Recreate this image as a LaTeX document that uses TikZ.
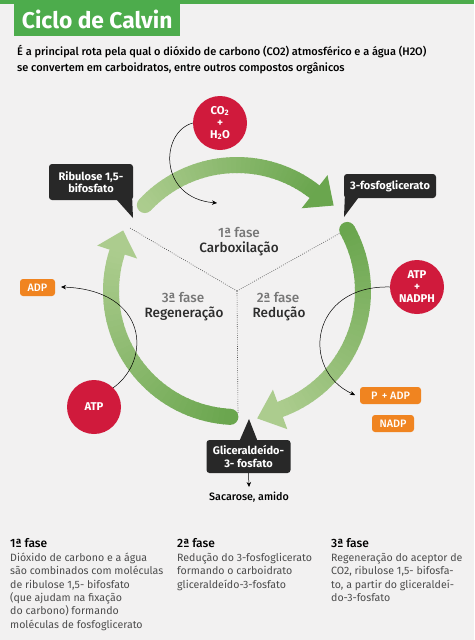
\documentclass[tikz,border=0pt]{standalone}
\usepackage{fontspec}
\setmainfont{Fira Sans}
\newfontfamily\firamed{Fira Sans Medium}
\usetikzlibrary{arrows.meta,calc}
\definecolor{bg}{RGB}{242,241,241}
\definecolor{ctitle}{RGB}{77,172,76}
\definecolor{cdark}{RGB}{40,40,40}
\definecolor{cred}{RGB}{208,26,60}
\definecolor{corange}{RGB}{240,132,32}
\definecolor{clight}{RGB}{172,204,142}
\definecolor{cgreen}{RGB}{106,166,78}
\definecolor{ctext}{RGB}{45,45,45}
\definecolor{cgray}{RGB}{118,118,118}
\newcommand\gradarc[4]{%
  \fill[#3] ($(C)+(#1:126pt)$) circle (8pt);
  \foreach \k in {1,...,40}{%
    \pgfmathsetmacro\aa{#1+(#2-#1)*(\k-1)/40}%
    \pgfmathsetmacro\ab{#1+(#2-#1)*\k/40-0.5}%
    \pgfmathsetmacro\pc{100*(\k-0.5)/40}%
    \draw[line width=16pt, color=#4!\pc!#3] ($(C)+(\aa:126pt)$) arc[start angle=\aa, end angle=\ab, radius=126pt];
  }}
\newcommand\arrhead[3]{%
  \fill[#3] ($(C)+(#1:147pt)$) -- ($(C)+(#2:129pt)$) -- ($(C)+(#1:105pt)$) -- cycle;}
\tikzset{
  callout/.style={fill=cdark, rounded corners=3pt, text=white, font=\bfseries\fontsize{11}{12.5}\selectfont, align=center, inner sep=0pt},
  redc/.style={circle, fill=cred, text=white, font=\bfseries\fontsize{11.3}{12}\selectfont, align=center, minimum size=54pt, inner sep=0pt},
  obox/.style={fill=corange, rounded corners=3pt, text=white, font=\firamed\fontsize{10.8}{12}\selectfont, inner sep=0pt, minimum height=17pt},
  phase/.style={font=\firamed\fontsize{13.5}{15}\selectfont, text=cgray},
  phasename/.style={font=\firamed\fontsize{13.5}{15}\selectfont, text=ctext},
  thinarrow/.style={-{Stealth[length=5pt,width=4.5pt]}, line width=0.5pt, black},
  dots/.style={dash pattern=on 0.8pt off 1.4pt, line width=0.6pt, black!70},
  body/.style={font=\fontsize{10.6}{13.3}\selectfont, text=ctext!85, align=left, anchor=north west, inner sep=0pt},
  head/.style={font=\firamed\fontsize{12}{13}\selectfont, text=black, anchor=west, inner sep=0pt},
}
\begin{document}
\begin{tikzpicture}[x=1pt,y=1pt]
\fill[bg] (0,0) rectangle (474,-640);
\useasboundingbox (0,0) rectangle (474,-640);
% title
\fill[ctitle] (0,0) rectangle (474,-3.5);
\node[fill=ctitle, minimum width=166pt, minimum height=33pt, inner sep=0pt, anchor=north west, text=white, font=\bfseries\fontsize{22.8}{24}\selectfont] (title) at (14,-3) {Ciclo de Calvin};
\node[anchor=north west, inner sep=0pt, align=left, text=black, font=\firamed\fontsize{11}{16}\selectfont] (sub) at (17,-45) {É a principal rota pela qual o dióxido de carbono (CO2) atmosférico e a água (H2O)\\se convertem em carboidratos, entre outros compostos orgânicos};
% cycle
\coordinate (C) at (237,-291);
\coordinate (d1) at (130,-228);
\coordinate (d2) at (342,-232);
\coordinate (d3) at (238,-413);
\draw[dots] (C) -- (d1);
\draw[dots] (C) -- (d2);
\draw[dots] (C) -- (d3);
\gradarc{137}{52}{clight}{cgreen}
\arrhead{52}{41.5}{cgreen}
\gradarc{29}{-70}{cgreen}{clight}
\arrhead{-70}{-81}{clight}
\gradarc{-93}{-198}{cgreen}{clight}
\arrhead{-198}{-208}{clight}
% phase labels
\node[phase] (f1) at (239,-233) {1ª fase};
\node[phasename] (n1) at (239,-249) {Carboxilação};
\node[phase] (f3) at (183,-298) {3ª fase};
\node[phasename] (n3) at (184,-314) {Regeneração};
\node[phase] (f2) at (278,-298) {2ª fase};
\node[phasename] (n2) at (279,-314) {Redução};
% callouts
\node[callout, minimum width=84pt, minimum height=36pt] (rib) at (91,-182) {Ribulose 1,5-\\bifosfato};
\coordinate (ribtip) at (133,-218);
\fill[cdark] ($(rib.south east)+(-17,1)$) -- ($(rib.south east)+(-1,1)$) -- (ribtip) -- cycle;
\node[callout, minimum width=92pt, minimum height=24pt] (fg) at (390,-186) {3-fosfoglicerato};
\coordinate (fgtip) at (344,-217);
\fill[cdark] ($(fg.south west)+(1,1)$) -- ($(fg.south west)+(15,1)$) -- (fgtip) -- cycle;
\node[callout, minimum width=84pt, minimum height=33pt] (gli) at (248.5,-456.5) {Gliceraldeído-\\3- fosfato};
\coordinate (glitip) at (249,-419);
\fill[cdark] ($(gli.north)+(-9,-1)$) -- ($(gli.north)+(9,-1)$) -- (glitip) -- cycle;
\coordinate (sacarr) at (249,-487);
\draw[thinarrow] (gli.south) -- (sacarr);
\node[font=\firamed\fontsize{10.7}{12}\selectfont, text=black] (sac) at (249,-497) {Sacarose, amido};
% red circles
\node[redc] (co2) at (220,-123) {CO\textsubscript{2}\\+\\H\textsubscript{2}O};
\coordinate (co2tip) at (217,-203);
\draw[thinarrow] (co2.west) .. controls (160,-132) and (158,-198) .. (co2tip);
\node[redc] (atpn) at (417,-287) {ATP\\+\\NADPH};
\coordinate (atpntip) at (355,-395);
\draw[thinarrow] (atpn.west) .. controls (310,-285) and (300,-370) .. (atpntip);
\node[redc] (atp) at (94,-407) {ATP};
\coordinate (atptip) at (61,-287);
\draw[thinarrow] (atp.north east) .. controls (152,-360) and (148,-290) .. (atptip);
% orange boxes
\node[obox, minimum width=61pt] (padp) at (390.5,-395.5) {P\, + ADP};
\node[obox, minimum width=42pt] (nadp) at (393,-423.5) {NADP};
\node[obox, minimum width=35pt] (adp) at (37.5,-287.5) {ADP};
% bottom text
\node[head] (h1) at (10,-543) {1ª fase};
\node[body] (b1) at (10,-553) {Dióxido de carbono e a água\\são combinados com moléculas\\de ribulose 1,5- bifosfato\\(que ajudam na fixação\\do carbono) formando\\moléculas de fosfoglicerato};
\node[head] (h2) at (177,-543) {2ª fase};
\node[body] (b2) at (177,-553) {Redução do 3-fosfoglicerato\\formando o carboidrato\\gliceraldeído-3-fosfato};
\node[head] (h3) at (331,-543) {3ª fase};
\node[body] (b3) at (331,-553) {Regeneração do aceptor de\\CO2, ribulose 1,5- bifosfa-\\to, a partir do gliceraldeí-\\do-3-fosfato};
\end{tikzpicture}
\end{document}
